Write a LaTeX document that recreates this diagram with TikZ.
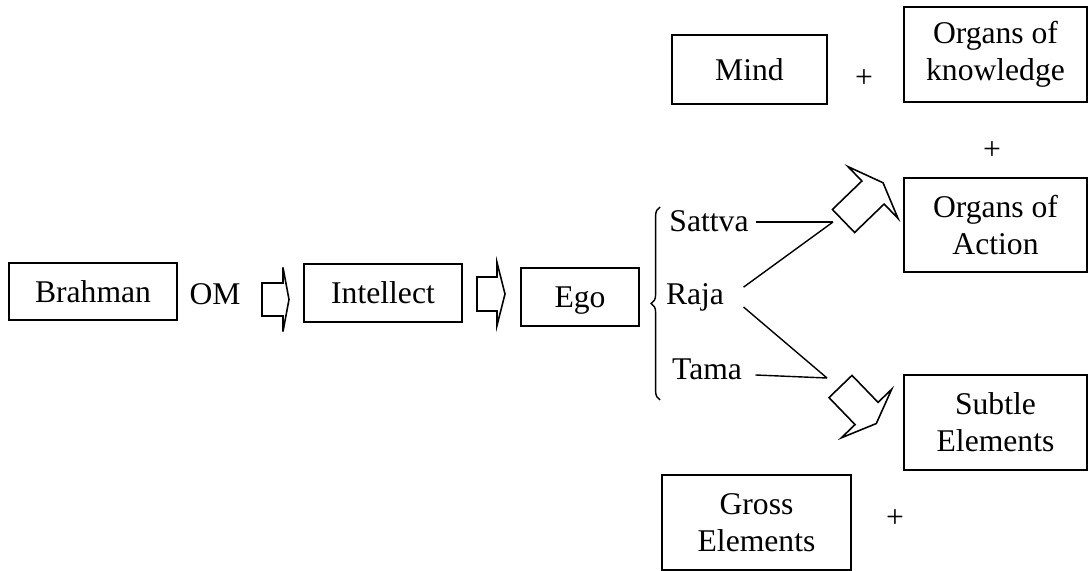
\documentclass[tikz,border=0pt]{standalone}
\usepackage{fontspec}
\setmainfont{Liberation Serif}
\usetikzlibrary{positioning}
\usetikzlibrary{decorations.pathreplacing}

\begin{document}
\begin{tikzpicture}[x=0.02cm,y=-0.02cm]
% définition des paramètres
\tikzstyle boitemichael=[draw=black,line width=0.8pt,align=center,inner sep=0pt,font=\fontsize{18}{21}\selectfont]
\tikzstyle textemichael=[font=\fontsize{18}{21}\selectfont,text height=12.3pt,text depth=4pt]
\tikzstyle flechemichael=[draw=black,line width=0.9pt,line join=miter]
\tikzstyle traitmichael=[color=black,line width=0.8pt]
\tikzstyle accolademichael=[color=black,line width=0.8pt,decorate,decoration={brace,amplitude=5pt}]
% flèche épaisse : x, y, angle, demi-largeur corps, longueur corps, demi-largeur tête, longueur tête
\newcommand{\blocfleche}[7]{%
\draw[shift={(#1,#2)},rotate=#3,flechemichael] (0,-#4)--(#5,-#4)--(#5,-#6)--(#5+#7,0)--(#5,#6)--(#5,#4)--(0,#4)--cycle;}

\useasboundingbox (0,0) rectangle (1088,571);

% les boîtes
\node[boitemichael,minimum width=3.36cm,minimum height=1.14cm] (brahman) at (93,291.5) {Brahman};
\node[boitemichael,minimum width=3.16cm,minimum height=1.16cm] (intellect) at (383,293) {Intellect};
\node[boitemichael,minimum width=2.36cm,minimum height=1.16cm,text depth=0pt] (ego) at (580,297) {Ego};
\node[boitemichael,minimum width=3.10cm,minimum height=1.38cm] (mind) at (749.5,69.5) {Mind};
\node[boitemichael,minimum width=3.66cm,minimum height=1.90cm] (knowledge) at (995.5,54.5) {Organs of\\knowledge};
\node[boitemichael,minimum width=3.66cm,minimum height=1.88cm] (action) at (995.5,225) {Organs of\\Action};
\node[boitemichael,minimum width=3.66cm,minimum height=1.90cm] (subtle) at (995.5,422.5) {Subtle\\Elements};
\node[boitemichael,minimum width=3.78cm,minimum height=1.90cm] (gross) at (756.5,522.5) {Gross\\Elements};

% les textes
\node[textemichael] (om) at (215,297.7) {OM};
\node[textemichael] (sattva) at (709,224.7) {Sattva};
\node[textemichael] (raja) at (695,297.7) {Raja};
\node[textemichael] (tama) at (707,372.7) {Tama};
\node[textemichael] (plusa) at (864,80) {+};
\node[textemichael] (plusb) at (992,152) {+};
\node[textemichael] (plusc) at (895,520) {+};

% l'accolade
\draw[accolademichael] (660,400) -- (660,207);

% les flèches
\blocfleche{262}{299.5}{0}{16.5}{21}{32}{6}
\blocfleche{477}{294}{0}{17}{20}{31.5}{8}
\blocfleche{843.5}{221}{44}{16}{41}{36}{14}
\blocfleche{840.5}{386.5}{-46}{16}{37.5}{35}{14}

% les traits
\coordinate (hs) at (833,222);
\coordinate (hi) at (827,378);
\draw[traitmichael] ([xshift=1pt]sattva.east |- hs) -- (hs);
\draw[traitmichael] ([xshift=7.6pt,yshift=6pt]raja.east) -- (hs);
\draw[traitmichael] ([xshift=7.6pt,yshift=-5.3pt]raja.east) -- (hi);
\draw[traitmichael] ([xshift=4.2pt,yshift=-1.3pt]tama.east) -- (hi);

\end{tikzpicture}
\end{document}
